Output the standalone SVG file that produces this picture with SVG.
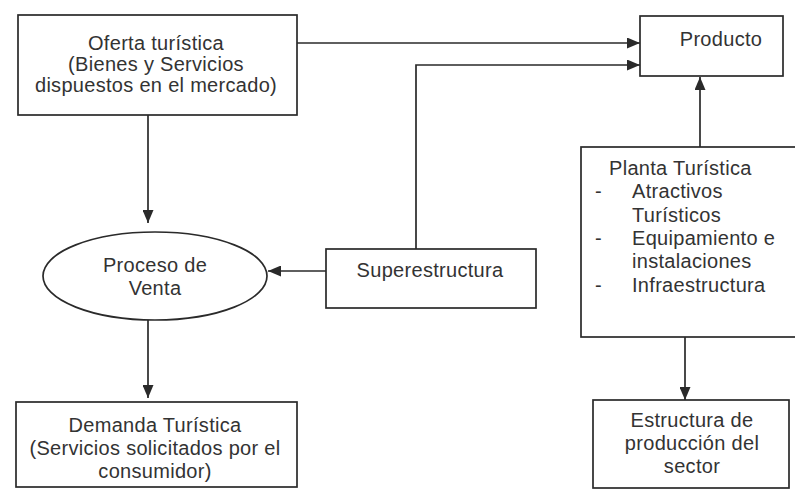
<svg xmlns="http://www.w3.org/2000/svg" width="795" height="490" viewBox="0 0 795 490">
<defs>
<style>
.box{fill:none;stroke:#2a2a2a;stroke-width:1.7}
.ln{fill:none;stroke:#2a2a2a;stroke-width:1.7}
text{font-family:"Liberation Sans",Arial,sans-serif;font-size:20px;letter-spacing:0.3px;fill:#333}
.c{text-anchor:middle}
</style>
<marker id="ah" viewBox="0 0 13 11" refX="13" refY="5.5" markerWidth="13" markerHeight="11" markerUnits="userSpaceOnUse" orient="auto">
<path d="M0,0 L13,5.5 L0,11 Z" fill="#2a2a2a"/>
</marker>
</defs>
<rect width="795" height="490" fill="#fff"/>
<g id="connectors">
<path class="ln" d="M297,43 L640,43" marker-end="url(#ah)"/>
<path class="ln" d="M416,249 L416,65 L640,65" marker-end="url(#ah)"/>
<path class="ln" d="M700,147 L700,77" marker-end="url(#ah)"/>
<path class="ln" d="M148,115 L148,223" marker-end="url(#ah)"/>
<path class="ln" d="M326,271 L268,271" marker-end="url(#ah)"/>
<path class="ln" d="M148,320 L148,398" marker-end="url(#ah)"/>
<path class="ln" d="M685,337 L685,400" marker-end="url(#ah)"/>
</g>
<g id="oferta">
<rect class="box" x="18" y="15" width="279" height="100"/>
<text class="c" x="156" y="50">Oferta turística</text>
<text class="c" x="156" y="71">(Bienes y Servicios</text>
<text class="c" x="156" y="92">dispuestos en el mercado)</text>
</g>
<g id="producto">
<rect class="box" x="640" y="16" width="143" height="60"/>
<text class="c" x="721" y="46">Producto</text>
</g>
<g id="proceso">
<ellipse class="box" cx="155" cy="276" rx="112" ry="44"/>
<text class="c" x="155" y="272">Proceso de</text>
<text class="c" x="155" y="295">Venta</text>
</g>
<g id="superestructura">
<rect class="box" x="326" y="249" width="210" height="59"/>
<text class="c" x="430" y="277">Superestructura</text>
</g>
<g id="planta">
<rect class="box" x="581" y="147" width="230" height="190"/>
<text x="609" y="175">Planta Turística</text>
<text x="595" y="198">-</text>
<text x="632" y="198">Atractivos</text>
<text x="632" y="222">Turísticos</text>
<text x="595" y="245">-</text>
<text x="632" y="245">Equipamiento e</text>
<text x="632" y="268">instalaciones</text>
<text x="595" y="292">-</text>
<text x="632" y="292">Infraestructura</text>
</g>
<g id="demanda">
<rect class="box" x="16" y="402" width="281" height="85"/>
<text class="c" x="155" y="432">Demanda Turística</text>
<text class="c" x="155" y="455">(Servicios solicitados por el</text>
<text class="c" x="155" y="478">consumidor)</text>
</g>
<g id="estructura">
<rect class="box" x="593" y="400" width="196" height="88"/>
<text class="c" x="692" y="427">Estructura de</text>
<text class="c" x="692" y="450">producción del</text>
<text class="c" x="692" y="473">sector</text>
</g>
</svg>
